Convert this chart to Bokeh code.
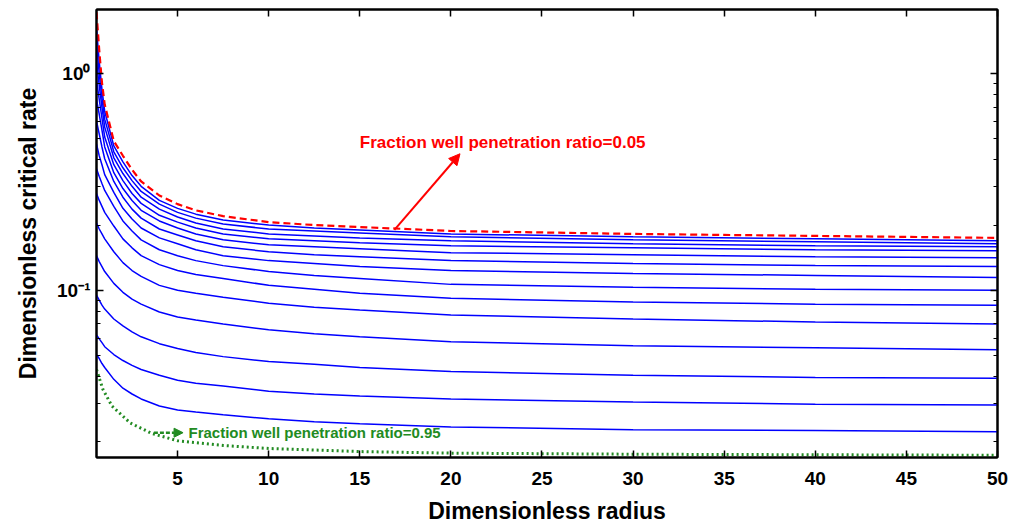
from bokeh.plotting import figure
from bokeh.models import (FixedTicker, LinearAxis, LogAxis, Range1d, Label, Arrow,
                          NormalHead, CustomJSTickFormatter)
from bokeh.embed import file_html
from bokeh.resources import INLINE

# ---- data ----
radius = [0.55, 0.7, 0.85, 1, 1.5, 2, 2.5, 3, 4, 5, 6, 7.5, 10, 12.5, 15, 20, 30, 40, 50]

rate_005 = [1.919, 1.287, 0.910, 0.722, 0.489, 0.418, 0.3606, 0.318, 0.274, 0.250, 0.234, 0.220, 0.2065, 0.2001, 0.196, 0.1879, 0.1821, 0.1783, 0.1746]

blue_01 = [1.622, 1.134, 0.845, 0.671, 0.464, 0.392, 0.3386, 0.302, 0.260, 0.239, 0.2247, 0.211, 0.2001, 0.1940, 0.1899, 0.1821, 0.1765, 0.1728, 0.1692]
blue_02 = [1.356, 1.000, 0.769, 0.617, 0.436, 0.368, 0.321, 0.286, 0.250, 0.229, 0.2154, 0.2022, 0.1919, 0.1879, 0.1840, 0.1765, 0.1710, 0.1674, 0.1639]
blue_03 = [1.134, 0.882, 0.699, 0.567, 0.409, 0.346, 0.302, 0.269, 0.237, 0.218, 0.2044, 0.1919, 0.1821, 0.1783, 0.1746, 0.1692, 0.1639, 0.1605, 0.1588]
blue_04 = [0.939, 0.761, 0.623, 0.510, 0.380, 0.321, 0.280, 0.252, 0.222, 0.2065, 0.1940, 0.1821, 0.1728, 0.1692, 0.1657, 0.1605, 0.1571, 0.1539, 0.1523]
blue_05 = [0.761, 0.650, 0.549, 0.459, 0.349, 0.295, 0.260, 0.234, 0.209, 0.1940, 0.1821, 0.1710, 0.1622, 0.1588, 0.1555, 0.1491, 0.1460, 0.1429, 0.1414]
blue_06 = [0.604, 0.527, 0.459, 0.405, 0.318, 0.269, 0.237, 0.2154, 0.1919, 0.1802, 0.1692, 0.1588, 0.1507, 0.1460, 0.1429, 0.1371, 0.1328, 0.1300, 0.1287]
blue_07 = [0.474, 0.418, 0.380, 0.342, 0.283, 0.239, 0.2133, 0.1940, 0.1746, 0.1639, 0.1539, 0.1445, 0.1371, 0.1328, 0.1287, 0.1234, 0.1196, 0.1171, 0.1147]
blue_08 = [0.364, 0.335, 0.311, 0.289, 0.244, 0.209, 0.1879, 0.1710, 0.1539, 0.1445, 0.1371, 0.1300, 0.1221, 0.1171, 0.1134, 0.1065, 0.1032, 0.1011, 0.1000]
blue_09 = [0.280, 0.260, 0.244, 0.229, 0.1980, 0.1728, 0.1571, 0.1445, 0.1314, 0.1234, 0.1183, 0.1134, 0.1054, 0.1011, 0.0969, 0.0919, 0.0882, 0.0863, 0.0854]
blue_10 = [0.2044, 0.1919, 0.1821, 0.1728, 0.1507, 0.1342, 0.1234, 0.1159, 0.1054, 0.1000, 0.0969, 0.0929, 0.0872, 0.0836, 0.0811, 0.0769, 0.0737, 0.0714, 0.0699]
blue_11 = [0.1445, 0.1357, 0.1287, 0.1221, 0.1076, 0.0979, 0.0910, 0.0863, 0.0794, 0.0753, 0.0729, 0.0699, 0.0657, 0.0630, 0.0610, 0.0579, 0.0555, 0.0543, 0.0532]
blue_12 = [0.0949, 0.0900, 0.0854, 0.0819, 0.0737, 0.0685, 0.0643, 0.0610, 0.0567, 0.0538, 0.0516, 0.0494, 0.0469, 0.0455, 0.0440, 0.0422, 0.0405, 0.0396, 0.0392]
blue_13 = [0.0623, 0.0597, 0.0573, 0.0549, 0.0505, 0.0474, 0.0450, 0.0431, 0.0405, 0.0384, 0.0372, 0.0361, 0.0342, 0.0332, 0.0325, 0.0315, 0.0305, 0.0298, 0.0295]
blue_14 = [0.0505, 0.0484, 0.0459, 0.0440, 0.0388, 0.0353, 0.0332, 0.0315, 0.0292, 0.0280, 0.0274, 0.0266, 0.0255, 0.0247, 0.0242, 0.0234, 0.0227, 0.0225, 0.0222]

radius_095 = [0.55, 0.9, 1.4, 2.4, 3.6, 5, 7.5, 10, 15, 20, 30, 40, 50]
rate_095 = [0.0431, 0.0349, 0.0292, 0.0244, 0.0218, 0.0202, 0.0192, 0.0186, 0.0180, 0.0177, 0.0175, 0.0174, 0.0173]

blue_series = [blue_01, blue_02, blue_03, blue_04, blue_05, blue_06, blue_07,
               blue_08, blue_09, blue_10, blue_11, blue_12, blue_13, blue_14]

x_ticks = [5, 10, 15, 20, 25, 30, 35, 40, 45, 50]
y_major_ticks = [0.1, 1]
y_minor_ticks = [0.02, 0.03, 0.04, 0.05, 0.06, 0.07, 0.08, 0.09,
                 0.2, 0.3, 0.4, 0.5, 0.6, 0.7, 0.8, 0.9]

label_top = "Fraction well penetration ratio=0.05"
label_bottom = "Fraction well penetration ratio=0.95"
label_top_pos = (15.0, 0.479)
arrow_top = (16.9, 0.190, 20.5, 0.427)
label_bottom_pos = (5.6, 0.0220)
arrow_bottom = (3.7, 0.0220, 5.3, 0.0220)

FONT = "Liberation Sans"
GREEN = "#228B22"

p = figure(width=1010, height=526,
           x_range=Range1d(0.55, 50), y_range=Range1d(0.0169, 1.98),
           y_axis_type="log", output_backend="svg", toolbar_location=None,
           min_border_left=96, min_border_right=13, min_border_top=9,
           min_border_bottom=64)
p.background_fill_color = "white"
p.border_fill_color = "white"
p.outline_line_color = "black"
p.outline_line_width = 2
p.xgrid.visible = False
p.ygrid.visible = False

for s in blue_series:
    p.line(radius, s, line_color="#0000FF", line_width=1.5)
p.line(radius, rate_005, line_color="#FF0000", line_width=2.2, line_dash="7 4")
p.line(radius_095, rate_095, line_color=GREEN, line_width=3, line_dash="2 3")

sup_code = r"""
const e = Math.round(Math.log10(tick));
const m = {"0": "\u2070", "1": "\u00B9", "2": "\u00B2", "3": "\u00B3", "-": "\u207B"};
return "10" + String(e).split("").map(c => m[c] || c).join("");
"""
empty_code = 'return "";'

def style_axis(ax, labels=True):
    ax.axis_line_color = "black"
    ax.axis_line_width = 2
    ax.major_tick_in = 7
    ax.major_tick_out = 0
    ax.minor_tick_in = 4
    ax.minor_tick_out = 0
    ax.major_tick_line_width = 1.5
    ax.minor_tick_line_width = 1.2
    ax.major_label_text_font = FONT
    ax.major_label_text_font_style = "bold"
    ax.major_label_text_color = "black"
    ax.axis_label_text_font = FONT
    ax.axis_label_text_font_style = "bold"
    ax.axis_label_text_color = "black"
    if not labels:
        ax.major_label_text_font_size = "0px"
        ax.major_label_standoff = 0

# bottom x axis
xa = p.xaxis[0]
xa.ticker = FixedTicker(ticks=x_ticks)
style_axis(xa)
xa.minor_tick_line_color = None
xa.major_label_text_font_size = "19px"
xa.major_label_standoff = 14
xa.axis_label = "Dimensionless radius"
xa.axis_label_text_font_size = "23px"
xa.axis_label_standoff = 10

# left y axis
ya = p.yaxis[0]
ya.ticker = FixedTicker(ticks=y_major_ticks, minor_ticks=y_minor_ticks)
ya.formatter = CustomJSTickFormatter(code=sup_code)
style_axis(ya)
ya.major_label_text_font_size = "19px"
ya.major_label_standoff = 6
ya.axis_label = "Dimensionless critical rate"
ya.axis_label_text_font_size = "23px"
ya.axis_label_standoff = 13

# top and right axes (ticks only)
top = LinearAxis(ticker=FixedTicker(ticks=x_ticks),
                 formatter=CustomJSTickFormatter(code=empty_code))
style_axis(top, labels=False)
top.minor_tick_line_color = None
p.add_layout(top, "above")

right = LogAxis(ticker=FixedTicker(ticks=y_major_ticks, minor_ticks=y_minor_ticks),
                formatter=CustomJSTickFormatter(code=empty_code))
style_axis(right, labels=False)
p.add_layout(right, "right")

# annotations
p.add_layout(Label(x=label_top_pos[0], y=label_top_pos[1], text=label_top,
                   text_font=FONT, text_font_style="bold", text_font_size="17px",
                   text_color="#FF0000", text_baseline="middle", text_align="left"))
p.add_layout(Arrow(x_start=arrow_top[0], y_start=arrow_top[1],
                   x_end=arrow_top[2], y_end=arrow_top[3],
                   line_color="#FF0000", line_width=2,
                   end=NormalHead(size=11, fill_color="#FF0000", line_color="#FF0000")))
p.add_layout(Label(x=label_bottom_pos[0], y=label_bottom_pos[1], text=label_bottom,
                   text_font=FONT, text_font_style="bold", text_font_size="15px",
                   text_color=GREEN, text_baseline="middle", text_align="left"))
p.add_layout(Arrow(x_start=arrow_bottom[0], y_start=arrow_bottom[1],
                   x_end=arrow_bottom[2], y_end=arrow_bottom[3],
                   line_color=GREEN, line_width=2.5, line_dash="4 2",
                   end=NormalHead(size=9, fill_color=GREEN, line_color=GREEN)))

with open("out.html", "w", encoding="utf-8") as f:
    f.write(file_html(p, INLINE))
